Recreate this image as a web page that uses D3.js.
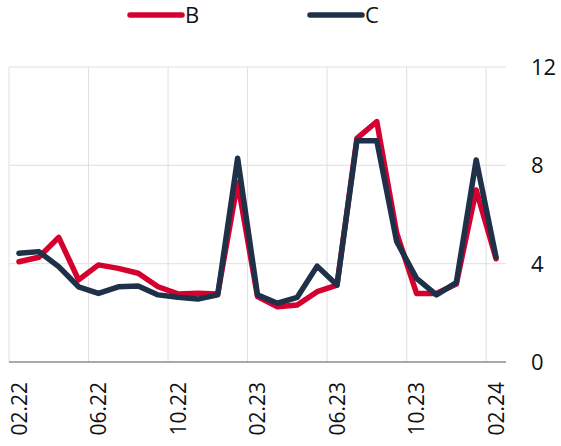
<!DOCTYPE html>
<html>
<head>
<meta charset="utf-8">
<script src="https://cdn.jsdelivr.net/npm/d3@7"></script>
<style>
  html, body { margin: 0; padding: 0; background: #fff; }
  svg { display: block; font-family: "Open Sans", sans-serif; }
  .grid line { stroke: #e0e0e0; stroke-width: 1; }
  .tick-label { fill: #111; }
</style>
</head>
<body>
<div id="chart"></div>
<script>
// Monthly series, 02.22 .. 02.24
const months = [
  '02.22', '03.22', '04.22', '05.22', '06.22', '07.22', '08.22', '09.22', '10.22',
  '11.22', '12.22', '01.23', '02.23', '03.23', '04.23', '05.23', '06.23', '07.23',
  '08.23', '09.23', '10.23', '11.23', '12.23', '01.24', '02.24'
];
const seriesB = [4.08, 4.26, 5.07, 3.34, 3.95, 3.81, 3.61, 3.06, 2.77, 2.8, 2.77, 7.3,
  2.66, 2.25, 2.32, 2.86, 3.13, 9.1, 9.78, 5.25, 2.79, 2.79, 3.17, 7.0, 4.2];
const seriesC = [4.42, 4.49, 3.88, 3.06, 2.79, 3.06, 3.09, 2.73, 2.63, 2.56, 2.73, 8.29,
  2.73, 2.39, 2.63, 3.9, 3.13, 9.0, 9.0, 4.9, 3.4, 2.73, 3.23, 8.22, 4.26];
const xTickLabels = ['02.22', '06.22', '10.22', '02.23', '06.23', '10.23', '02.24'];
const yTicks = [0, 4, 8, 12];

const series = [
  { name: 'B', values: seriesB, color: '#d5002f' },
  { name: 'C', values: seriesC, color: '#1e3148' }
];

const W = 561, H = 446;
const plot = { left: 9, right: 506, top: 67, bottom: 362 };

const svg = d3.select('#chart').append('svg')
  .attr('width', W)
  .attr('height', H);

const x = d3.scaleBand()
  .domain(months)
  .range([plot.left, plot.right])
  .padding(0);
const xc = m => x(m) + x.bandwidth() / 2;

const y = d3.scaleLinear()
  .domain([0, 12])
  .range([plot.bottom, plot.top]);

// Gridlines
const grid = svg.append('g').attr('class', 'grid');
yTicks.filter(t => t > 0).forEach(t => {
  grid.append('line')
    .attr('x1', plot.left).attr('x2', plot.right)
    .attr('y1', y(t)).attr('y2', y(t));
});
xTickLabels.forEach(m => {
  grid.append('line')
    .attr('x1', x(m)).attr('x2', x(m))
    .attr('y1', plot.top).attr('y2', plot.bottom);
});

// Baseline
svg.append('line')
  .attr('x1', plot.left).attr('x2', plot.right)
  .attr('y1', y(0)).attr('y2', y(0))
  .attr('stroke', '#8c8c8c')
  .attr('stroke-width', 1.5);

// Y labels on the right
yTicks.forEach(t => {
  svg.append('text')
    .attr('class', 'tick-label')
    .attr('x', 531)
    .attr('y', y(t))
    .attr('dy', '0.36em')
    .attr('font-size', 22)
    .text(t);
});

// X labels, rotated
xTickLabels.forEach(m => {
  svg.append('text')
    .attr('class', 'tick-label')
    .attr('transform', `translate(${xc(m)},${plot.bottom + 20}) rotate(-90)`)
    .attr('text-anchor', 'end')
    .attr('dy', '0.36em')
    .attr('font-size', 21)
    .text(m);
});

// Lines
const line = d3.line()
  .x((d, i) => xc(months[i]))
  .y(d => y(d));

series.forEach(s => {
  svg.append('path')
    .datum(s.values)
    .attr('d', line)
    .attr('fill', 'none')
    .attr('stroke', s.color)
    .attr('stroke-width', 5.5)
    .attr('stroke-linejoin', 'round')
    .attr('stroke-linecap', 'round');
});

// Legend
const legendX = [130, 310];
series.forEach((s, i) => {
  const g = svg.append('g').attr('transform', `translate(${legendX[i]},15)`);
  g.append('line')
    .attr('x1', 0).attr('x2', 52)
    .attr('y1', 0).attr('y2', 0)
    .attr('stroke', s.color)
    .attr('stroke-width', 5.5)
    .attr('stroke-linecap', 'round');
  g.append('text')
    .attr('x', 55)
    .attr('dy', '0.36em')
    .attr('font-size', 22)
    .attr('fill', '#111')
    .text(s.name);
});
</script>
</body>
</html>
